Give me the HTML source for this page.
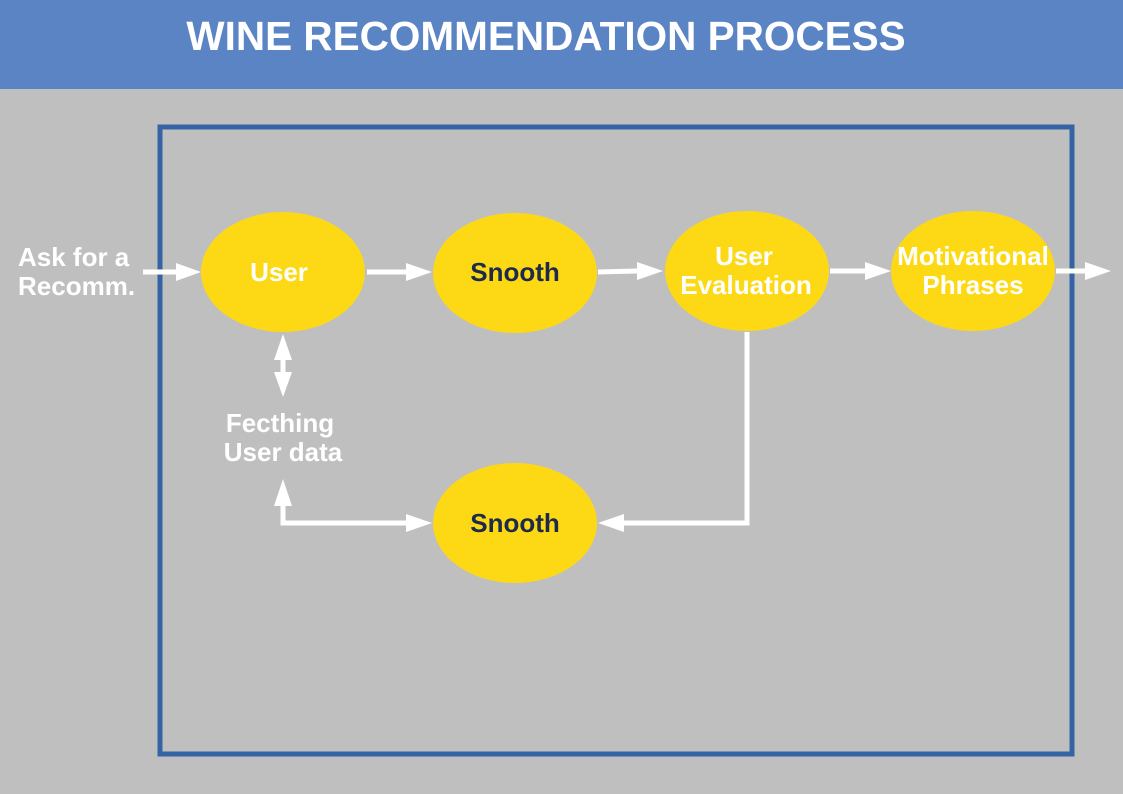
<!DOCTYPE html>
<html><head><style>
html,body{margin:0;padding:0;width:1123px;height:794px;overflow:hidden;background:#bfbfbf}
svg{display:block}
text{font-family:"Liberation Sans",sans-serif;font-weight:bold}
</style></head><body>
<svg width="1123" height="794" viewBox="0 0 1123 794">
<rect x="0" y="0" width="1123" height="89" fill="#5b84c4"/>
<text x="546" y="50" font-size="40.5" fill="#fff" text-anchor="middle">WINE RECOMMENDATION PROCESS</text>
<rect x="160" y="127" width="912" height="627" fill="none" stroke="#3464a5" stroke-width="5"/>
<g fill="#fdd915">
<ellipse cx="283" cy="272" rx="82" ry="60"/>
<ellipse cx="515" cy="273" rx="82" ry="60"/>
<ellipse cx="747" cy="271" rx="82" ry="60"/>
<ellipse cx="973" cy="271" rx="82" ry="60"/>
<ellipse cx="515" cy="523" rx="82" ry="60"/>
</g>
<g stroke="#fff" stroke-width="5" fill="none">
<line x1="143" y1="272" x2="176" y2="272"/>
<line x1="367" y1="272" x2="408" y2="272"/>
<line x1="598" y1="272" x2="638" y2="271"/>
<line x1="830" y1="271" x2="866" y2="271"/>
<line x1="1056" y1="271" x2="1086" y2="271"/>
<line x1="283" y1="358" x2="283" y2="376"/>
<polyline points="283,504 283,523 408,523"/>
<polyline points="747,332 747,523 622,523"/>
</g>
<g fill="#fff">
<polygon points="176,263 201,272 176,281"/>
<polygon points="406,263 432,272 406,281"/>
<polygon points="637,262 663,271 637,280"/>
<polygon points="865,262 891,271 865,280"/>
<polygon points="1085,262 1111,271 1085,280"/>
<polygon points="274,360 283,334 292,360"/>
<polygon points="274,372 283,397 292,372"/>
<polygon points="274,506 283,479 292,506"/>
<polygon points="406,514 432,523 406,532"/>
<polygon points="624,514 598,523 624,532"/>
</g>
<g font-size="26" text-anchor="middle">
<text x="279" y="281" fill="#fff">User</text>
<text x="515" y="281" fill="#1e2a4a">Snooth</text>
<text x="515" y="532" fill="#1e2a4a">Snooth</text>
<text x="744" y="265" fill="#fff">User</text>
<text x="746" y="294" fill="#fff">Evaluation</text>
<text x="973" y="265" fill="#fff">Motivational</text>
<text x="973" y="294" fill="#fff">Phrases</text>
<text x="280" y="432" fill="#fff">Fecthing</text>
<text x="283" y="461" fill="#fff">User data</text>
</g>
<g font-size="26" fill="#fff">
<text x="18" y="266">Ask for a</text>
<text x="18" y="295">Recomm.</text>
</g>
</svg>
</body></html>
